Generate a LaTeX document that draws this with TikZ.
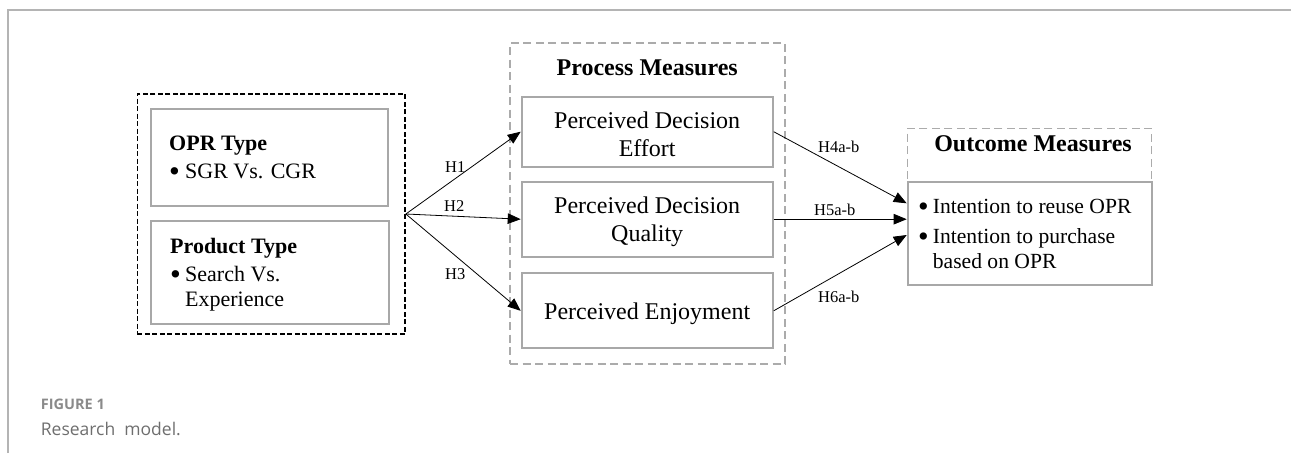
\documentclass[tikz,border=0pt]{standalone}
\usepackage{fontspec}
\setmainfont{Liberation Serif}
\newfontfamily\capfont{Open Sans}
\usetikzlibrary{arrows.meta}
\definecolor{boxgray}{HTML}{A8A8A8}
\definecolor{dashgray}{HTML}{ABABAB}
\definecolor{framegray}{HTML}{B4B4B4}
\definecolor{capgray}{HTML}{8A8A8A}
\definecolor{captext}{HTML}{6E6E6E}
\newcommand{\bigbul}{\raisebox{-0.15em}{\scalebox{1.4}{•}}}
\begin{document}
\begin{tikzpicture}[x=1pt,y=-1pt,
  solidbox/.style={draw=boxgray, line width=2pt, inner sep=0pt, rectangle},
  graydash/.style={draw=dashgray, line width=1.5pt, dash pattern=on 8pt off 4.5pt, inner sep=0pt, rectangle},
  blackdash/.style={draw=black, line width=1.6pt, dash pattern=on 5pt off 2.5pt, inner sep=0pt, rectangle},
  arr/.style={-{Triangle[length=13pt,width=10.5pt]}, line width=0.8pt, black},
  hlab/.style={anchor=base west, inner sep=0pt, font=\fontsize{16.5}{19}\selectfont},
  big/.style={anchor=base, inner sep=0pt, font=\fontsize{24}{28}\selectfont},
  bighead/.style={anchor=base, inner sep=0pt, font=\fontsize{24}{28}\selectfont\bfseries},
  lefthead/.style={anchor=base west, inner sep=0pt, font=\fontsize{22}{27}\selectfont\bfseries},
  lefttext/.style={anchor=base west, inner sep=0pt, font=\fontsize{22}{27}\selectfont},
  outtext/.style={anchor=base west, inner sep=0pt, font=\fontsize{21.6}{27}\selectfont}]
\useasboundingbox (0,0) rectangle (1291,453);
% page frame
\draw[framegray, line width=2pt] (8,453) -- (8,10) -- (1291,10);

% left group
\node[blackdash, minimum width=267.7pt, minimum height=240pt] (left) at (271.2,214) {};
\node[solidbox, minimum width=237pt, minimum height=97pt] (opr) at (269.5,157.2) {};
\node[solidbox, minimum width=238pt, minimum height=103pt] (prod) at (270,272.5) {};
\node[lefthead] (oprh) at (169,150.7) {OPR Type};
\node[lefttext] (oprt) at (169,178) {\makebox[16pt][l]{\bigbul}SGR Vs. CGR};
\node[lefthead] (prodh) at (170,253.3) {Product Type};
\node[lefttext] (prodt) at (170,281) {\makebox[15pt][l]{\bigbul}Search Vs.};
\node[lefttext] (prodt2) at (185,306.7) {Experience};

% process group
\node[graydash, minimum width=275pt, minimum height=321pt] (proc) at (647.5,203.5) {};
\node[bighead] (proch) at (647.2,75) {Process Measures};
\node[solidbox, minimum width=251pt, minimum height=70pt] (effort) at (647.2,131.7) {};
\node[solidbox, minimum width=251pt, minimum height=75pt] (quality) at (647.2,219.2) {};
\node[solidbox, minimum width=251pt, minimum height=75pt] (enjoy) at (647.2,310.8) {};
\node[big] (efft1) at (647.2,128.7) {Perceived Decision};
\node[big] (efft2) at (647.2,156.7) {Effort};
\node[big] (qualt1) at (647.2,213.3) {Perceived Decision};
\node[big] (qualt2) at (647.2,241.7) {Quality};
\node[big] (enjt) at (647.2,319.3) {Perceived Enjoyment};

% outcome group
\node[graydash, minimum width=244pt, minimum height=156.7pt] (outc) at (1029.7,206.7) {};
\node[solidbox, minimum width=244pt, minimum height=103.3pt] (outin) at (1029.7,233.3) {};
\node[bighead] (outh) at (1033,151.7) {Outcome Measures};
\node[outtext] (o1) at (918,213.3) {\makebox[14.7pt][l]{\bigbul}Intention to reuse OPR};
\node[outtext] (o2) at (918,243.3) {\makebox[14.7pt][l]{\bigbul}Intention to purchase};
\node[outtext] (o3) at (932.7,268.3) {based on OPR};

% connectors
\draw[arr] (left.east) -- (effort.west);
\draw[arr] (left.east) -- (quality.west);
\draw[arr] (left.east) -- (enjoy.west);
\draw[arr] (effort.east) -- ([yshift=30pt]outin.west);
\draw[arr] (quality.east) -- (quality.east -| outin.west);
\draw[arr] (enjoy.east) -- ([yshift=-1.7pt]outin.west);

% edge labels
\node[hlab] (h1) at (445,172.7) {H1};
\node[hlab] (h2) at (444,211.7) {H2};
\node[hlab] (h3) at (445,279.3) {H3};
\node[hlab] (h4) at (818,152.7) {H4a-b};
\node[hlab] (h5) at (814,215) {H5a-b};
\node[hlab] (h6) at (818,302.7) {H6a-b};

% caption
\node[anchor=base west, inner sep=0pt, text=capgray, font=\capfont\fontsize{14.5}{17}\selectfont\bfseries] (fig) at (40.7,409.3) {FIGURE 1};
\node[anchor=base west, inner sep=0pt, text=captext, font=\capfont\fontsize{17.5}{21}\selectfont] (cap) at (40.7,435) {Research\ \ model.};
\end{tikzpicture}
\end{document}
